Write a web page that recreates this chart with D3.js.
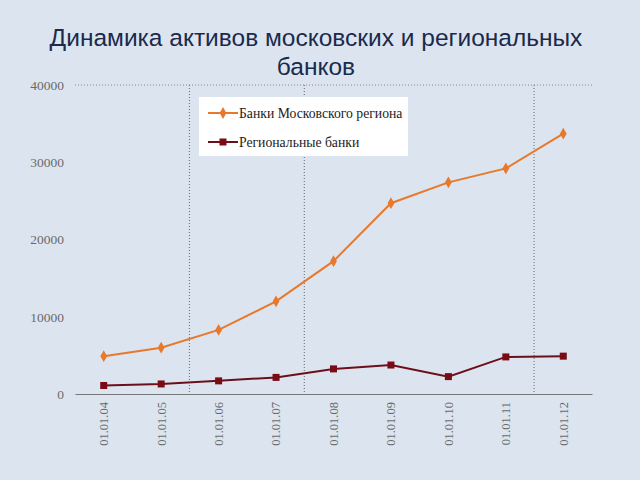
<!DOCTYPE html>
<html><head><meta charset="utf-8">
<script src="https://cdn.jsdelivr.net/npm/d3@7"></script>
<style>
html,body{margin:0;padding:0;background:#DCE5EF;}
</style></head>
<body>
<svg id="c" width="640" height="480"></svg>
<script>
const categories = ["01.01.04","01.01.05","01.01.06","01.01.07","01.01.08","01.01.09","01.01.10","01.01.11","01.01.12"];
const moscow = [4900, 6000, 8300, 12000, 17200, 24700, 27400, 29200, 33700];
const regional = [1100, 1300, 1700, 2150, 3250, 3750, 2250, 4800, 4900];
const yTicks = [0, 10000, 20000, 30000, 40000];
const seriesNames = ["Банки Московского региона", "Региональные банки"];
const separators = ["01.01.06", "01.01.08", "01.01.12"];

const svg = d3.select("#c");
svg.append("rect").attr("width",640).attr("height",480).attr("fill","#DCE5EF");

svg.append("text").attr("x",316).attr("y",46).attr("text-anchor","middle")
  .attr("font-family","Liberation Sans, Arial, sans-serif").attr("font-size",24.5).attr("fill","#1B2A4C")
  .text("Динамика активов московских и региональных");
svg.append("text").attr("x",316).attr("y",75).attr("text-anchor","middle")
  .attr("font-family","Liberation Sans, Arial, sans-serif").attr("font-size",24.5).attr("fill","#1B2A4C")
  .text("банков");

const x = d3.scaleBand().domain(categories).range([75,592]);
const y = d3.scaleLinear().domain([0,40000]).range([394,85]);
const cx = d => x(d) + x.bandwidth()/2;

svg.append("line").attr("x1",75).attr("x2",592).attr("y1",y(40000)).attr("y2",y(40000))
  .attr("stroke","#888").attr("stroke-width",1).attr("stroke-dasharray","1,2");
separators.forEach(s=>{
  svg.append("line").attr("x1",x(s)-0.5).attr("x2",x(s)-0.5).attr("y1",y(40000)).attr("y2",y(0))
    .attr("stroke","#666").attr("stroke-width",1).attr("stroke-dasharray","1,2");
});

const yAxis = d3.axisLeft(y).tickValues(yTicks).tickSize(0).tickPadding(0).tickFormat(d3.format("d"));
const gy = svg.append("g").attr("transform","translate(64,0)").call(yAxis);
gy.select(".domain").remove();
gy.selectAll("text").attr("font-family","Liberation Serif, Times New Roman, serif").attr("font-size",13.5).attr("fill","#6a6a6a");

const xAxis = d3.axisBottom(x).tickSize(0).tickPadding(0);
const gx = svg.append("g").attr("transform","translate(0,394)").call(xAxis);
gx.select(".domain").attr("stroke","#777").attr("stroke-width",1.2);
gx.selectAll("text").attr("font-family","Liberation Serif, Times New Roman, serif").attr("font-size",12.5).attr("fill","#6a6a6a")
  .attr("transform","rotate(-90)").attr("text-anchor","end").attr("dy","0.35em").attr("x",-8).attr("y",0);

const line = d3.line().x((d,i)=>cx(categories[i])).y(d=>y(d));
svg.append("path").datum(moscow).attr("d",line).attr("fill","none").attr("stroke","#E8782C").attr("stroke-width",2);
svg.append("path").datum(regional).attr("d",line).attr("fill","none").attr("stroke","#6B0F1A").attr("stroke-width",2);

const diamond = d3.symbol().type(d3.symbolDiamond).size(40);
svg.selectAll(".mm").data(moscow).enter().append("path")
  .attr("transform",(d,i)=>`translate(${cx(categories[i])},${y(d)})`).attr("d",diamond).attr("fill","#E8782C");
svg.selectAll(".rm").data(regional).enter().append("rect")
  .attr("x",(d,i)=>cx(categories[i])-3.5).attr("y",d=>y(d)-3.5).attr("width",7).attr("height",7).attr("fill","#7A0A14");

const lg = svg.append("g");
lg.append("rect").attr("x",199).attr("y",97).attr("width",209).attr("height",59).attr("fill","#fff");
const items = [{c:"#E8782C", sym:"d"},{c:"#6B0F1A", sym:"s"}];
items.forEach((it,i)=>{
  const yy = 113 + i*29;
  lg.append("line").attr("x1",208).attr("x2",238).attr("y1",yy).attr("y2",yy).attr("stroke",it.c).attr("stroke-width",2);
  if(it.sym==="d") lg.append("path").attr("transform",`translate(223,${yy})`).attr("d",diamond).attr("fill",it.c);
  else lg.append("rect").attr("x",219.5).attr("y",yy-3.5).attr("width",7).attr("height",7).attr("fill","#7A0A14");
  lg.append("text").attr("x",239).attr("y",yy+4.5).attr("font-family","Liberation Serif, Times New Roman, serif")
    .attr("font-size",13.7).attr("fill","#222").text(seriesNames[i]);
});
</script>
</body></html>
